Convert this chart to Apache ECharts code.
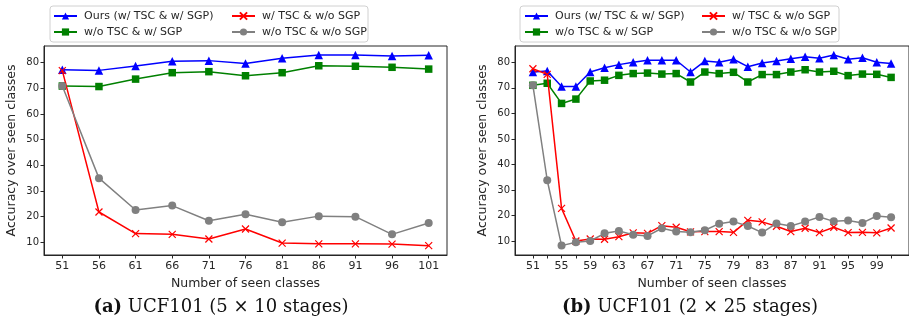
<!DOCTYPE html>
<html><head><meta charset="utf-8">
<script src="https://cdn.jsdelivr.net/npm/echarts@6/dist/echarts.min.js"></script>
<style>html,body{margin:0;padding:0;background:#fff;overflow:hidden}#c{width:909px;height:320px}</style>
</head><body><div id="c"></div><script>
// ---- data: (a) UCF101 5 x 10 stages ----
const xA = [51, 56, 61, 66, 71, 76, 81, 86, 91, 96, 101];
const oursA   = [77.2, 77.0, 78.7, 80.6, 80.8, 79.7, 81.7, 83.0, 83.0, 82.6, 82.9];
const noTscA  = [70.9, 70.7, 73.6, 76.1, 76.5, 74.9, 76.1, 78.8, 78.6, 78.2, 77.5];
const noSgpA  = [76.9, 21.8, 13.4, 13.1, 11.3, 15.2, 9.7, 9.4, 9.4, 9.3, 8.7];
const noneA   = [70.9, 35.0, 22.6, 24.3, 18.4, 20.9, 17.8, 20.2, 20.0, 13.1, 17.5];
const xTicksA = [51, 56, 61, 66, 71, 76, 81, 86, 91, 96, 101];

// ---- data: (b) UCF101 2 x 25 stages ----
const xB = [51, 53, 55, 57, 59, 61, 63, 65, 67, 69, 71, 73, 75, 77, 79, 81, 83, 85, 87, 89, 91, 93, 95, 97, 99, 101];
const oursB  = [76.2, 76.6, 70.5, 70.5, 76.2, 77.9, 79.1, 80.0, 80.8, 80.8, 80.8, 76.2, 80.5, 80.0, 81.2, 78.3, 79.7, 80.5, 81.4, 82.2, 81.6, 82.9, 81.2, 81.8, 80.0, 79.5];
const noTscB = [71.0, 71.8, 63.9, 65.6, 72.7, 73.0, 74.9, 75.6, 75.8, 75.4, 75.6, 72.3, 76.2, 75.6, 76.1, 72.3, 75.2, 75.2, 76.2, 77.1, 76.2, 76.5, 74.8, 75.4, 75.3, 74.1];
const noSgpB = [77.5, 75.3, 22.8, 10.0, 10.8, 10.7, 11.7, 13.2, 13.0, 16.0, 15.4, 13.6, 13.7, 13.7, 13.4, 18.1, 17.5, 15.8, 13.7, 15.0, 13.3, 15.4, 13.3, 13.4, 13.2, 15.1];
const noneB  = [71.0, 33.8, 8.2, 9.5, 10.0, 13.0, 13.9, 12.5, 12.0, 15.0, 13.7, 13.4, 14.2, 16.8, 17.6, 15.9, 13.3, 16.9, 15.9, 17.6, 19.4, 17.7, 18.0, 17.1, 19.8, 19.3];
const xTickB  = [51, 53, 55, 57, 59, 61, 63, 65, 67, 69, 71, 73, 75, 77, 79, 81, 83, 85, 87, 89, 91, 93, 95, 97, 99, 101];
const xLabelB = [51, 55, 59, 63, 67, 71, 75, 79, 83, 87, 91, 95, 99];
const yTicks  = [10, 20, 30, 40, 50, 60, 70, 80];

const names = ['Ours (w/ TSC & w/ SGP)', 'w/o TSC & w/ SGP', 'w/ TSC & w/o SGP', 'w/o TSC & w/o SGP'];
const colors = ['#0000ff', '#008000', '#ff0000', '#808080'];
const symbols = ['triangle', 'rect', 'path://M0,0L10,10M0,10L10,0', 'circle'];
const sizes = [8.5, 7.5, 7, 8];

const zip = (xs, ys) => xs.map((x, i) => [x, ys[i]]);
const FONT = 'DejaVu Sans';
const INK = '#262626';

function mkSeries(k, data, idx) {
  const isX = k === 2;
  return {
    type: 'line', name: names[k], xAxisIndex: idx, yAxisIndex: idx,
    data: data, symbol: symbols[k], symbolSize: sizes[k], showSymbol: true,
    animation: false, silent: true, z: 2 + k,
    lineStyle: { color: colors[k], width: 1.5 },
    itemStyle: isX ? { color: 'none', borderColor: colors[k], borderWidth: 1.2 }
                   : { color: colors[k], borderColor: colors[k], borderWidth: 0, opacity: 1 }
  };
}

function xAxis(idx, min, max, ticks, labels) {
  return {
    type: 'value', gridIndex: idx, min: min, max: max,
    name: 'Number of seen classes', nameLocation: 'middle', nameGap: 22,
    nameTextStyle: { fontFamily: FONT, fontSize: 12.5, color: INK },
    splitLine: { show: false },
    axisLine: { show: true, lineStyle: { color: INK, width: 1 } },
    axisTick: { show: true, length: 3.5, customValues: ticks, lineStyle: { color: INK, width: 1 } },
    axisLabel: { customValues: labels, margin: 6, fontFamily: FONT, fontSize: 11, color: INK }
  };
}
function yAxis(idx, min, max) {
  return {
    type: 'value', gridIndex: idx, min: min, max: max,
    name: 'Accuracy over seen classes', nameLocation: 'middle', nameGap: 26,
    nameTextStyle: { fontFamily: FONT, fontSize: 12.5, color: INK },
    splitLine: { show: false },
    axisLine: { show: true, lineStyle: { color: INK, width: 1 } },
    axisTick: { show: true, length: 3.5, customValues: yTicks, lineStyle: { color: INK, width: 1 } },
    axisLabel: { customValues: yTicks, margin: 5, fontFamily: FONT, fontSize: 10, color: INK }
  };
}
function legend(left, data) {
  return {
    data: data, left: left, top: 9.5, orient: 'vertical', height: 30,
    itemGap: 3, itemWidth: 23, itemHeight: 9, padding: 0, selectedMode: false,
    textStyle: { fontFamily: FONT, fontSize: 11, color: INK, lineHeight: 13, padding: [0, 0, 0, 2] }
  };
}

const chart = echarts.init(document.getElementById('c'), null, { renderer: 'canvas' });
chart.setOption({
  animation: false,
  grid: [
    { left: 44, top: 46, width: 403, height: 209, show: true, borderColor: INK, borderWidth: 1, backgroundColor: 'transparent' },
    { left: 515, top: 46, width: 403, height: 209, show: true, borderColor: INK, borderWidth: 1, backgroundColor: 'transparent' }
  ],
  xAxis: [xAxis(0, 48.5, 103.5, xTicksA, xTicksA), xAxis(1, 48.5, 103.5, xTickB, xLabelB)],
  yAxis: [yAxis(0, 5.05, 86.5), yAxis(1, 4.52, 86.4)],
  legend: [
    legend(53, [names[0], names[1]]), legend(231, [names[2], names[3]]),
    legend(524, [names[0], names[1]]), legend(701, [names[2], names[3]])
  ],
  graphic: [
    { type: 'rect', shape: { x: 50, y: 6, width: 318, height: 36, r: 3 }, style: { fill: 'rgba(255,255,255,0.8)', stroke: '#d0d0d0', lineWidth: 1 }, z: 0 },
    { type: 'rect', shape: { x: 520, y: 6, width: 319, height: 36, r: 3 }, style: { fill: 'rgba(255,255,255,0.8)', stroke: '#d0d0d0', lineWidth: 1 }, z: 0 },
    { type: 'text', x: 221, y: 307, style: { text: '{b|(a)} UCF101 (5 × 10 stages)', align: 'center', verticalAlign: 'middle', fontFamily: 'DejaVu Serif', fontSize: 18, fill: '#111', rich: { b: { fontWeight: 'bold', fontFamily: 'DejaVu Serif', fontSize: 18 } } } },
    { type: 'text', x: 690, y: 307, style: { text: '{b|(b)} UCF101 (2 × 25 stages)', align: 'center', verticalAlign: 'middle', fontFamily: 'DejaVu Serif', fontSize: 18, fill: '#111', rich: { b: { fontWeight: 'bold', fontFamily: 'DejaVu Serif', fontSize: 18 } } } }
  ],
  series: [
    mkSeries(0, zip(xA, oursA), 0), mkSeries(1, zip(xA, noTscA), 0), mkSeries(2, zip(xA, noSgpA), 0), mkSeries(3, zip(xA, noneA), 0),
    mkSeries(0, zip(xB, oursB), 1), mkSeries(1, zip(xB, noTscB), 1), mkSeries(2, zip(xB, noSgpB), 1), mkSeries(3, zip(xB, noneB), 1)
  ]
});
</script></body></html>
